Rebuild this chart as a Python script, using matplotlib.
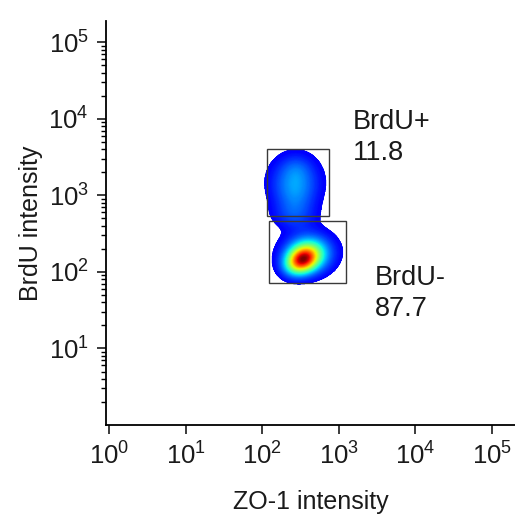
import numpy as np
import matplotlib
matplotlib.use('Agg')
import matplotlib.pyplot as plt
from matplotlib.colors import LinearSegmentedColormap, Normalize
from matplotlib.patches import Rectangle

plt.rcParams['font.family'] = ['Liberation Sans', 'DejaVu Sans']
plt.rcParams['mathtext.fontset'] = 'custom'
plt.rcParams['mathtext.rm'] = 'Liberation Sans'

# Population components (log10 ZO-1, log10 BrdU, spread, tilt, weight)
comp_x = [2.52, 2.60, 2.43, 2.45, 2.42, 2.43]
comp_y = [2.16, 2.24, 3.18, 3.38, 2.74, 2.95]
comp_sx = [0.14, 0.21, 0.22, 0.14, 0.20, 0.18]
comp_sy = [0.12, 0.17, 0.22, 0.12, 0.13, 0.15]
comp_rho = [0.25, 0.05, 0.0, 0.0, 0.0, 0.0]
comp_w = [0.62, 0.38, 0.19, 0.04, 0.09, 0.05]

# Gates (ZO-1 min/max, BrdU min/max) and their labels
gate_x0 = [116, 123]
gate_x1 = [745, 1242]
gate_y0 = [540, 72]
gate_y1 = [4055, 464]
gate_names = ['BrdU+', 'BrdU-']
gate_pcts = ['11.8', '87.7']
label_x = [1530, 2970]
label_y = [13500, 125]

# density on a log grid
gx = np.linspace(1.5, 3.6, 420)
gy = np.linspace(1.5, 4.0, 500)
LX, LY = np.meshgrid(gx, gy)
dens = np.zeros_like(LX)
for mx, my, sx, sy, r, w in zip(comp_x, comp_y, comp_sx, comp_sy, comp_rho, comp_w):
    u = (LX - mx) / sx
    v = (LY - my) / sy
    dens += w * np.exp(-(u * u - 2 * r * u * v + v * v) / (2 * (1 - r * r)))
dens = dens / dens.max()
thr = 0.04
dens = np.ma.masked_less(dens, thr)

jet = plt.get_cmap('jet')
cmap = LinearSegmentedColormap.from_list('jet_cut', jet(np.linspace(0.12, 1.0, 256)))

fig = plt.figure(figsize=(5.15, 5.21), dpi=100)
ax = fig.add_axes([106 / 515, 1 - 425 / 521, 1 - 106 / 515, (425 - 21) / 521])

ax.pcolormesh(10 ** gx, 10 ** gy, dens, cmap=cmap, norm=Normalize(thr, 1.0), shading='gouraud', rasterized=True)

for i in range(len(gate_names)):
    ax.add_patch(Rectangle((gate_x0[i], gate_y0[i]), gate_x1[i] - gate_x0[i], gate_y1[i] - gate_y0[i],
                           fill=False, edgecolor='#3a3a3a', linewidth=1.0))
    ax.text(label_x[i], label_y[i], gate_names[i] + '\n' + gate_pcts[i], fontsize=19.5,
            va='top', ha='left', color='#1a1a1a', linespacing=1.25)

ax.set_xscale('log')
ax.set_yscale('log')
ax.set_xlim(0.91, 2e5)
ax.set_ylim(1.0, 1.9e5)
ax.set_xticks([1, 10, 100, 1e3, 1e4, 1e5])
ax.set_yticks([10, 100, 1e3, 1e4, 1e5])

for s in ['top', 'right']:
    ax.spines[s].set_visible(False)
for s in ['left', 'bottom']:
    ax.spines[s].set_linewidth(1.3)

ax.tick_params(which='major', direction='out', length=6.5, width=1.2, labelsize=18.5, pad=6, colors='#1a1a1a')
ax.tick_params(which='minor', direction='out', length=3.5, width=1.0)

ax.set_xlabel('ZO-1 intensity', fontsize=18, labelpad=15, color='#1a1a1a')
ax.set_ylabel('BrdU intensity', fontsize=18, labelpad=4, color='#1a1a1a')

fig.savefig('out.png', dpi=100)
